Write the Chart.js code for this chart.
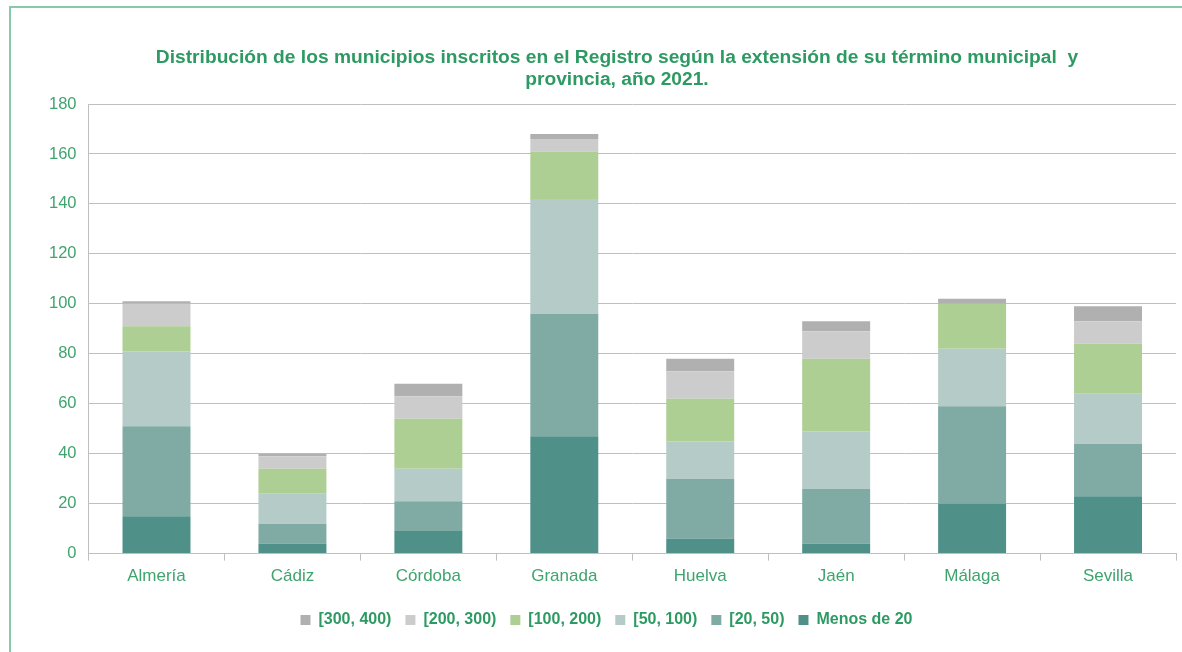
<!DOCTYPE html>
<html>
<head>
<meta charset="utf-8">
<script src="https://cdn.jsdelivr.net/npm/chart.js@4/dist/chart.umd.min.js"></script>
<style>
  body { margin: 0; background: #fff; overflow: hidden; }
  #frame { position: absolute; left: 9px; top: 6px; width: 1300px; height: 800px; border: 2px solid #86cba8; }
  #title { position: absolute; left: 0; top: 46px; width: 1234px; text-align: center;
    font: bold 19.2px "Liberation Sans", Arial, sans-serif; color: #2e9a63; line-height: 22px; }
  #wrap { position: absolute; left: 0; top: 0; width: 1182px; height: 652px; }
</style>
</head>
<body>
<div id="frame"></div>
<div id="wrap"><canvas id="chart"></canvas></div>
<div id="title">Distribución de los municipios inscritos en el Registro según la extensión de su término municipal&nbsp; y<br>provincia, año 2021.</div>
<script>
const provincias = ["Almería", "Cádiz", "Córdoba", "Granada", "Huelva", "Jaén", "Málaga", "Sevilla"];
const serieNames = ["Menos de 20", "[20, 50)", "[50, 100)", "[100, 200)", "[200, 300)", "[300, 400)"];
const menos20 = [15, 4, 9, 47, 6, 4, 20, 23];
const de20a50 = [36, 8, 12, 49, 24, 22, 39, 21];
const de50a100 = [30, 12, 13, 46, 15, 23, 23, 20];
const de100a200 = [10, 10, 20, 19, 17, 29, 18, 20];
const de200a300 = [9, 5, 9, 5, 11, 11, 0, 9];
const de300a400 = [1, 1, 5, 2, 5, 4, 2, 6];
const colores = ["#4f9189", "#80aba5", "#b5cbc8", "#aecf93", "#cccccc", "#b0b0b0"];

const series = [menos20, de20a50, de50a100, de100a200, de200a300, de300a400];
const green = "#2e9a63";
const tickGreen = "#3fa46e";
const fam = "'Liberation Sans', Arial, sans-serif";

new Chart(document.getElementById("chart"), {
  type: "bar",
  data: {
    labels: provincias,
    datasets: series.map((d, i) => ({
      label: serieNames[i],
      data: d,
      backgroundColor: colores[i],
      barPercentage: 0.5,
      categoryPercentage: 1
    }))
  },
  options: {
    responsive: true,
    maintainAspectRatio: false,
    animation: false,
    layout: { padding: { left: 37, right: 6, top: 104, bottom: 14 } },
    plugins: {
      tooltip: { enabled: false },
      legend: {
        position: "bottom",
        reverse: true,
        labels: {
          boxWidth: 10, boxHeight: 10, padding: 14,
          color: green,
          font: { family: fam, size: 16, weight: "bold" }
        }
      }
    },
    scales: {
      x: {
        stacked: true,
        afterFit: (scale) => { scale.height += 5; },
        grid: { offset: true, drawOnChartArea: false, color: "#bfbfbf", tickLength: 7, lineWidth: 1 },
        border: { color: "#bfbfbf" },
        ticks: { color: tickGreen, padding: 6, font: { family: fam, size: 17 } }
      },
      y: {
        stacked: true,
        min: 0, max: 180,
        ticks: { stepSize: 20, color: tickGreen, padding: 12, font: { family: fam, size: 16.5 } },
        grid: { color: "#bfbfbf", drawTicks: false },
        border: { color: "#bfbfbf" }
      }
    }
  }
});
</script>
</body>
</html>
